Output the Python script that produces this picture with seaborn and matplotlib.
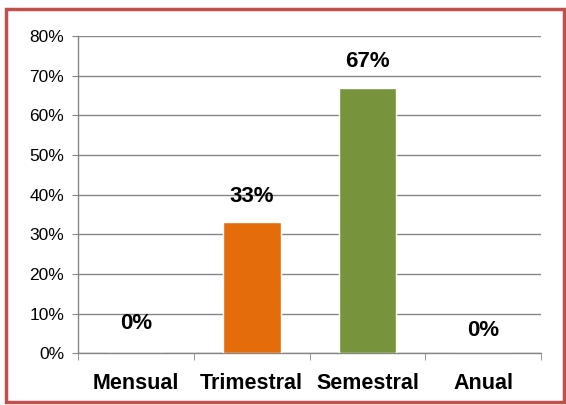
import matplotlib
matplotlib.use('Agg')
import matplotlib.pyplot as plt
import seaborn as sns
import pandas as pd
import numpy as np
from matplotlib.patches import Rectangle

# Data
categories = ['Mensual', 'Trimestral', 'Semestral', 'Anual']
values = [0, 33, 67, 0]
labels = ['0%', '33%', '67%', '0%']
colors = ['#4F81BD', '#E46C0A', '#77933C', '#8064A2']

sns.set_style('white')
plt.rcParams['font.family'] = ['Liberation Sans', 'DejaVu Sans']
plt.rcParams['text.color'] = 'black'
plt.rcParams['xtick.color'] = 'black'
plt.rcParams['ytick.color'] = 'black'

df = pd.DataFrame({'cat': categories, 'val': values})

fig = plt.figure(figsize=(5.66, 4.05), dpi=100)
ax = fig.add_axes([0.138, 0.128, 0.818, 0.783])

sns.barplot(data=df, x='cat', y='val', hue='cat', palette=dict(zip(categories, colors)),
            width=0.5, saturation=1, legend=False, ax=ax, zorder=3)

ax.set_ylim(0, 80)
ax.set_xlim(-0.5, 3.5)
ax.set_yticks(np.arange(0, 81, 10))
ax.set_yticklabels([f'{t}%' for t in range(0, 81, 10)], fontsize=12.5)
ax.yaxis.grid(True, color='#868686', linewidth=1)
ax.set_axisbelow(True)
ax.set_xlabel('')
ax.set_ylabel('')

for s in ['top', 'right']:
    ax.spines[s].set_visible(False)
for s in ['left', 'bottom']:
    ax.spines[s].set_color('#868686')
    ax.spines[s].set_linewidth(1)

ax.tick_params(axis='y', length=4, color='#868686', direction='out', left=True, pad=6,
               labelcolor='black')
ax.tick_params(axis='x', which='major', length=0, pad=14, labelcolor='black')
ax.set_xticks(np.arange(-0.5, 4, 1), minor=True)
ax.tick_params(axis='x', which='minor', length=5, color='#868686', direction='out', bottom=True)
for t in ax.get_xticklabels():
    t.set_fontsize(15.5)
    t.set_fontweight('bold')

# value labels
for i, (v, lab) in enumerate(zip(values, labels)):
    off = 6.5 if v > 0 else (7.5 if i == 0 else 5.8)
    ax.text(i, v + off, lab, ha='center', va='center', fontsize=16, fontweight='bold',
            color='black')

# red frame around the chart
fig.patches.append(Rectangle((0.011, 0.007), 0.985, 0.972, transform=fig.transFigure,
                             fill=False, edgecolor='#C0504D', linewidth=2.5))

fig.savefig('out.png', dpi=100)
